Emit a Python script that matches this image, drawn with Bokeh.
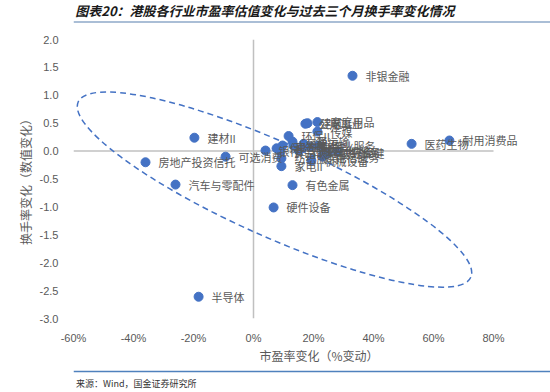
from bokeh.plotting import figure
from bokeh.models import (ColumnDataSource, FixedTicker, Span, Label, Range1d)
from bokeh.layouts import column
from bokeh.core.properties import value
from bokeh.embed import file_html
from bokeh.resources import INLINE

# ---------------- data ----------------
industries = [
    "非银金融", "建材II", "房地产投资信托", "可选消费", "汽车与零配件", "半导体",
    "硬件设备", "有色金属", "医药生物", "耐用消费品",
    "银行", "保险", "电力", "食品饮料", "纺织服装", "家电II", "环保II", "交通运输",
    "零售", "石油石化", "煤炭", "公用事业", "建筑", "化工", "钢铁", "家庭用品",
    "传媒", "商业服务", "机械设备", "软件服务", "电信服务", "医疗保健", "综合",
]
pe_change = [
    33.0, -19.7, -36.0, -9.3, -26.0, -18.3,
    6.7, 13.0, 52.7, 65.3,
    4.0, 7.7, 9.7, 9.0, 9.3, 9.3, 11.7, 13.0,
    13.3, 15.0, 16.3, 17.3, 18.0, 16.7, 19.0, 21.3,
    21.3, 21.7, 19.3, 23.3, 23.0, 24.7, 28.0,
]
turnover_change = [
    1.35, 0.24, -0.20, -0.10, -0.60, -2.61,
    -1.01, -0.61, 0.13, 0.19,
    0.01, 0.05, 0.10, -0.01, -0.13, -0.27, 0.27, 0.17,
    0.10, 0.01, 0.05, 0.49, 0.50, 0.13, 0.08, 0.52,
    0.35, 0.10, -0.17, -0.01, -0.10, -0.04, -0.01,
]
x_ticks = [-60, -40, -20, 0, 20, 40, 60, 80]
x_tick_labels = ["-60%", "-40%", "-20%", "0%", "20%", "40%", "60%", "80%"]
y_ticks = [-3.0, -2.5, -2.0, -1.5, -1.0, -0.5, 0.0, 0.5, 1.0, 1.5, 2.0]
y_tick_labels = ["-3.0", "-2.5", "-2.0", "-1.5", "-1.0", "-0.5", "0.0", "0.5", "1.0", "1.5", "2.0"]

title_text = "图表20：港股各行业市盈率估值变化与过去三个月换手率变化情况"
x_title = "市盈率变化（%变动）"
y_title = "换手率变化（数值变化）"
source_text = "来源：Wind，国金证券研究所"

CJK = "Noto Sans CJK SC"
LAT = "Liberation Sans"
GRAY = "#595959"
W = 550
LEFT = 73                       # plot-area left edge (px)
PX_PER_UNIT = 3.0               # x scale: px per 1 %


def strip_fig(height):
    f = figure(width=W, height=height, output_backend="svg", toolbar_location=None,
               x_range=Range1d(0, W), y_range=Range1d(height, 0),
               x_axis_type=None, y_axis_type=None,
               min_border=0, min_border_left=0, min_border_right=0,
               min_border_top=0, min_border_bottom=0)
    f.outline_line_color = None
    f.grid.visible = False
    f.border_fill_color = "white"
    f.background_fill_color = "white"
    return f


# ---------------- header ----------------
header = strip_fig(26)
header.add_layout(Label(x=2, y=10, text=title_text, text_font=CJK, text_font_size="13px",
                        text_font_style="bold italic", text_color="#1a1a1a",
                        text_baseline="middle"))
header.add_layout(Span(location=21.5, dimension="width", line_color="#8EA9C8", line_width=1.5))

# ---------------- main chart ----------------
# plot area runs from -60% to 80%; the frame is widened to the canvas edge so
# that data labels right of 80% are not clipped (no outline / axis line drawn)
x_end = x_ticks[0] + (W - LEFT) / PX_PER_UNIT
p = figure(width=W, height=320, output_backend="svg", toolbar_location=None,
           x_range=(x_ticks[0], x_end), y_range=(y_ticks[0], y_ticks[-1]),
           min_border_left=LEFT, min_border_right=0, min_border_top=13, min_border_bottom=23)
p.outline_line_color = None
p.grid.visible = False
p.background_fill_color = "white"
p.border_fill_color = "white"

for ax in (p.xaxis[0], p.yaxis[0]):
    ax.axis_line_color = None
    ax.major_tick_line_color = None
    ax.minor_tick_line_color = None
    ax.major_label_text_font = LAT
    ax.major_label_text_font_size = "11px"
    ax.major_label_text_color = GRAY
    ax.axis_label_text_font = CJK
    ax.axis_label_text_font_size = "12px"
    ax.axis_label_text_font_style = "normal"
    ax.axis_label_text_color = GRAY

p.xaxis[0].ticker = FixedTicker(ticks=x_ticks)
p.xaxis[0].major_label_overrides = {t: s for t, s in zip(x_ticks, x_tick_labels)}
p.xaxis[0].major_label_standoff = 7

p.yaxis[0].ticker = FixedTicker(ticks=y_ticks)
p.yaxis[0].major_label_overrides = {t: s for t, s in zip(y_ticks, y_tick_labels)}
p.yaxis[0].major_label_standoff = 9
p.yaxis[0].axis_label = y_title
p.yaxis[0].axis_label_standoff = 3

# zero lines
p.segment(x0=[x_ticks[0]], y0=[0], x1=[x_ticks[-1]], y1=[0], line_color="#C0C0C0", line_width=1.5)
p.add_layout(Span(location=0, dimension="height", line_color="#C0C0C0", line_width=1.5))

# highlight ellipse (annotation)
p.ellipse(x=[7.0], y=[-0.69], width=[430], height=[94], angle=[-0.42],
          width_units="screen", height_units="screen",
          fill_alpha=0, line_color="#4472C4", line_width=1.5, line_dash="6 4")

src = ColumnDataSource(dict(x=pe_change, y=turnover_change, name=industries))
p.scatter("x", "y", source=src, size=9, color="#4472C4")
for xv, yv, name in zip(pe_change, turnover_change, industries):
    p.add_layout(Label(x=xv, y=yv, text=name, x_offset=13, y_offset=0,
                       text_baseline="middle", text_font=CJK,
                       text_font_size="11px", text_color=GRAY))

# ---------------- footer (x-axis title, rule, source) ----------------
footer = strip_fig(46)
footer.add_layout(Label(x=LEFT + (x_ticks[-1] - x_ticks[0]) * PX_PER_UNIT / 2, y=9,
                        text=x_title, text_font=CJK, text_font_size="12px",
                        text_color=GRAY, text_align="center", text_baseline="middle"))
footer.add_layout(Span(location=25, dimension="width", line_color="#4F81BD", line_width=1.5))
footer.add_layout(Label(x=3, y=37, text=source_text, text_font=CJK, text_font_size="9px",
                        text_color="#333333", text_baseline="middle"))

layout = column(header, p, footer, spacing=0)
open("out.html", "w").write(file_html(layout, INLINE))
